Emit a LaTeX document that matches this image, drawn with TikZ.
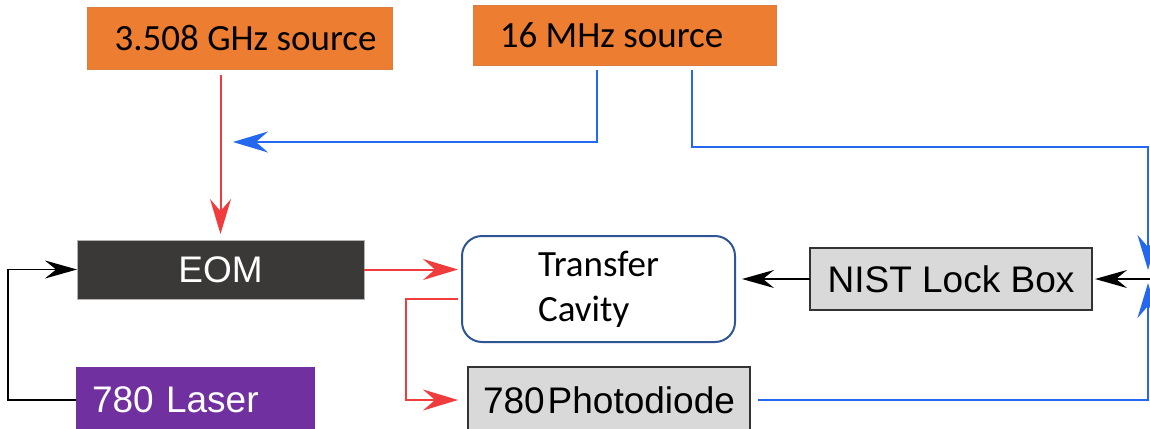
\documentclass[tikz,border=0pt]{standalone}
\usepackage{fontspec}
\usetikzlibrary{arrows.meta,calc}
\newfontfamily\calfont{Carlito}
\newfontfamily\arifont{Liberation Sans}
\definecolor{srcorange}{HTML}{ED7D31}
\definecolor{eomgray}{HTML}{3B3838}
\definecolor{laserpurple}{HTML}{7030A0}
\definecolor{boxgray}{HTML}{D9D9D9}
\definecolor{cavblue}{HTML}{2F5597}
\definecolor{linered}{HTML}{F03C3C}
\definecolor{lineblue}{HTML}{2468F0}
\begin{document}
\begin{tikzpicture}[x=1pt,y=-1pt,
  box/.style={rectangle,inner sep=0pt,outer sep=0pt},
  srcbox/.style={box,fill=srcorange,draw=srcorange!80!gray,line width=0.5pt,font=\calfont\fontsize{37}{42}\selectfont},
  graybox/.style={box,fill=boxgray,draw=black!80,line width=1.2pt,font=\arifont\fontsize{37}{42}\selectfont},
  redarr/.style={draw=linered,line width=2pt,-{Stealth[length=35pt,width=21pt,inset=12pt]}},
  bluearr/.style={draw=lineblue,line width=2.2pt,-{Stealth[length=35pt,width=21pt,inset=12pt]}},
  blackarr/.style={draw=black,line width=1.8pt,-{Stealth[length=32pt,width=18pt,inset=11pt]}},
]
\useasboundingbox (0,0) rectangle (1150,428);

\node[srcbox,minimum width=305pt,minimum height=62pt] (ghz) at (239.5,38) {\hspace*{12pt}3.508 GHz source};
\node[srcbox,minimum width=303pt,minimum height=60pt] (mhz) at (624.5,35) {\hspace*{-26pt}16 MHz source};

\node[box,fill=eomgray,draw=gray!60,line width=0.8pt,minimum width=287pt,minimum height=59pt,text=white,font=\arifont\fontsize{37}{42}\selectfont] (eom) at (220.5,269.5) {EOM};

\node[box,fill=laserpurple,minimum width=239pt,minimum height=66pt,text width=207pt,inner xsep=16pt,align=left,text=white,font=\arifont\fontsize{37}{42}\selectfont] (laser) at (195.5,400) {780 Laser};

\node[box,draw=cavblue,line width=2pt,rounded corners=20pt,minimum width=273pt,minimum height=106pt,align=left,font=\calfont\fontsize{37}{45}\selectfont] (cav) at (598.5,289) {Transfer\\Cavity};

\node[graybox,minimum width=282pt,minimum height=66pt] (pd) at (609,400) {780\kern3pt Photodiode};

\node[graybox,minimum width=282pt,minimum height=62pt] (nist) at (951,279) {NIST Lock Box};

% junction coordinates
\coordinate (jn) at (1148,279);
\coordinate (bluetip) at (233,142);

% red: GHz -> EOM
\draw[redarr,shorten <=6pt,shorten >=6pt] (ghz.south -| eom.north) -- (eom.north);
% blue: 16 MHz -> left
\draw[bluearr] (mhz.south -| 597,0) ++(0,5) |- (bluetip);
% blue: 16 MHz -> right -> junction
\draw[bluearr,shorten >=9pt] (mhz.south -| 692,0) ++(0,5) |- (1148,147) -- (jn);
% blue: photodiode -> junction
\draw[bluearr,shorten >=4pt] ($(pd.east)+(8,0)$) -| (jn);
% black: junction -> NIST
\draw[blackarr,shorten >=3pt] (1151,279) -- (nist.east);
% black: NIST -> cavity
\draw[blackarr,shorten >=7pt] (nist.west) -- (nist.west -| cav.east);
% black: laser -> EOM
\draw[blackarr] (laser.west) -- ++(-68,0) |- (eom.west);
% red: EOM -> cavity
\draw[redarr,shorten >=4pt] (eom.east) -- (eom.east -| cav.west);
% red: cavity -> photodiode
\draw[redarr,shorten >=10pt] ($(cav.west)+(-4,10)$) -- ++(-52,0) |- (pd.west);
\end{tikzpicture}
\end{document}
